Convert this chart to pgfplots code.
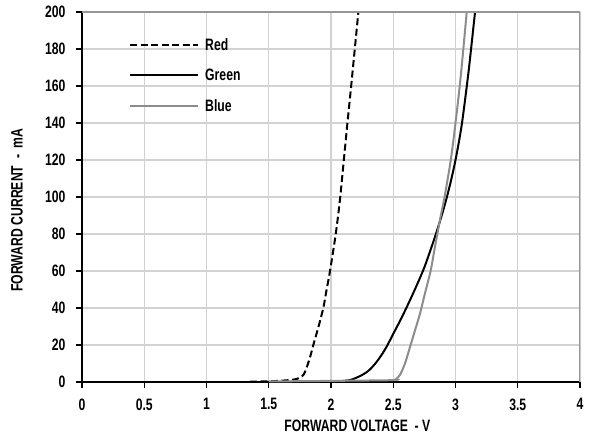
\documentclass[border=0pt]{standalone}
\usepackage{fontspec}
\setmainfont{Liberation Sans}[FakeStretch=0.74]
\usepackage{pgfplots}
\pgfplotsset{compat=1.18}
\definecolor{bluegray}{RGB}{140,140,140}
\definecolor{gridgray}{RGB}{210,210,210}
\definecolor{framegray}{RGB}{150,150,150}
\begin{document}
\begin{tikzpicture}
\begin{axis}[
 at={(0,0)}, anchor=south west,
 width=498bp, height=370bp, scale only axis,
 xmin=0, xmax=4, ymin=0, ymax=200,
 xtick={0,0.5,1,1.5,2,2.5,3,3.5,4},
 ytick={0,20,40,60,80,100,120,140,160,180,200},
 axis lines=left, axis line style={-, black, line width=1.5bp},
 tick align=outside, major tick length=6bp,
 tick style={black, line width=1.2bp},
 grid=major, major grid style={gridgray, line width=1.3bp},
 /pgf/number format/assume math mode=true,
 tick label style={font=\fontsize{16.5bp}{18bp}\selectfont\bfseries},
 xticklabel style={yshift=-7bp},
 yticklabel style={xshift=-7bp},
 label style={font=\fontsize{16.5bp}{18bp}\selectfont\bfseries},
 xlabel={FORWARD VOLTAGE\ \ - V},
 ylabel={FORWARD CURRENT\ \ -\ \ mA},
 xlabel style={at={(axis description cs:0.553,-0.1189)}, anchor=center},
 ylabel style={at={(axis description cs:-0.1305,0.465)}, anchor=center},
 legend cell align=left,
 legend style={draw=none, fill=none, at={(rel axis cs:0.0944,0.9297)}, anchor=north west,
   inner sep=0pt, row sep=14.5bp, column sep=4bp,
   font=\fontsize{16.5bp}{18bp}\selectfont\bfseries,
   nodes={inner sep=2bp, text height=10bp, text depth=2bp}},
 legend image code/.code={\draw[#1] (0bp,1.5bp) -- (68bp,1.5bp);},
]
\addplot[black, line width=2bp, dash pattern=on 7bp off 3.5bp, smooth] coordinates {
(1.35,0.2) (1.5,0.4) (1.6,0.7) (1.7,1.3) (1.75,2.3) (1.78,4) (1.8,7) (1.83,13)
(1.858,20) (1.9,30) (1.938,40) (1.965,50) (1.992,60) (2.038,80) (2.071,98)
(2.103,120) (2.132,140) (2.162,160) (2.191,180) (2.22,200)};
\addlegendentry{Red}
\addplot[black, line width=2bp, smooth] coordinates {
(1.6,0) (2.0,0.3) (2.1,0.6) (2.15,1) (2.2,2.2) (2.25,3.8) (2.3,6) (2.35,9.5)
(2.4,14) (2.45,19.5) (2.5,26) (2.55,32.5) (2.6,39.3) (2.65,46.5) (2.7,54)
(2.75,62) (2.8,71.5) (2.85,81.5) (2.9,92.5) (2.95,105) (3.0,120) (3.05,139)
(3.1,165) (3.125,180) (3.157,200)};
\addlegendentry{Green}
\addplot[bluegray, line width=2bp, smooth] coordinates {
(1.5,0.3) (2.0,0.6) (2.5,1) (2.52,1.5) (2.554,3.8) (2.594,10) (2.635,19)
(2.675,28) (2.715,37) (2.755,48) (2.80,60) (2.827,70) (2.854,80)
(2.882,90) (2.912,100) (2.962,120) (3.0,140) (3.034,160) (3.063,180) (3.09,200)};
\addlegendentry{Blue}
\draw[framegray, line width=3bp] (rel axis cs:0,1) -- (rel axis cs:1,1) -- (rel axis cs:1,0);
\end{axis}
\pgfresetboundingbox
\path[use as bounding box] (-82bp,-58bp) rectangle (507bp,382bp);
\end{tikzpicture}
\end{document}
